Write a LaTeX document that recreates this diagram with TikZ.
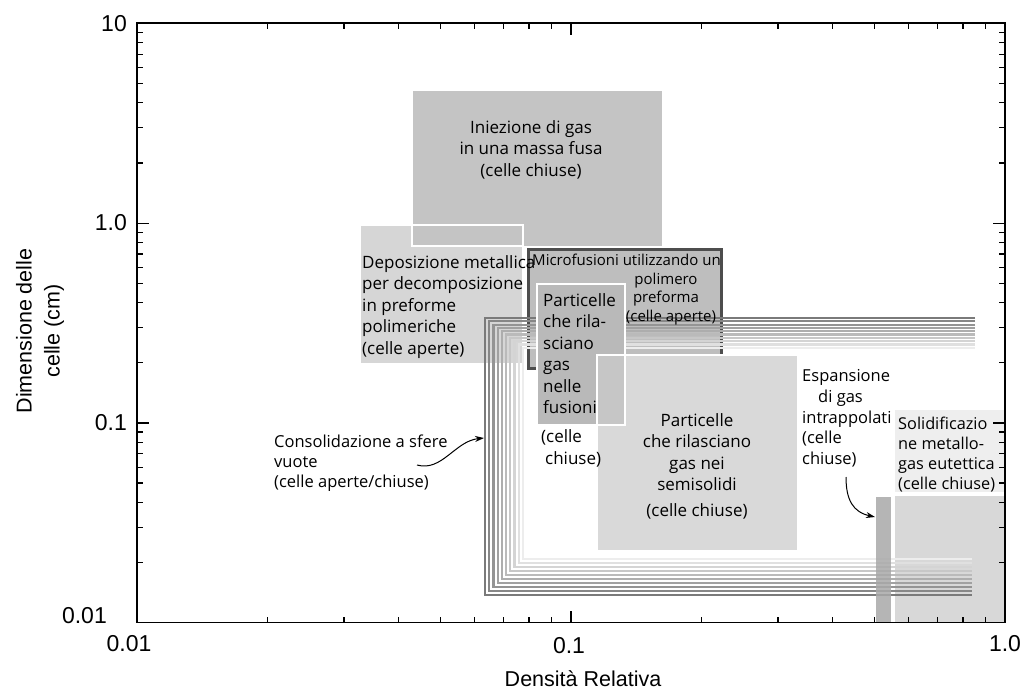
\documentclass[tikz,border=0pt]{standalone}
\usepackage{fontspec}
\setmainfont{Liberation Sans}
\newfontfamily\lblfont{Open Sans}
\usetikzlibrary{calc, positioning, arrows.meta}

\definecolor{iniez}{HTML}{C4C4C4}
\definecolor{depos}{HTML}{D6D6D6}
\definecolor{micro}{HTML}{BEBEBE}
\definecolor{microb}{HTML}{4D4D4D}
\definecolor{fusio}{HTML}{B9B9B9}
\definecolor{overl}{HTML}{C6C6C6}
\definecolor{semis}{HTML}{D9D9D9}
\definecolor{solidc}{HTML}{D8D8D8}
\definecolor{solidlc}{HTML}{EEEEEE}
\definecolor{espan}{HTML}{A8A8A8}

\begin{document}
\begin{tikzpicture}[x=1pt, y=-1pt,
  whiteline/.style={draw=white, line width=2pt},
  lbl/.style={font=\lblfont\fontsize{17}{21.5}\selectfont, inner sep=0pt, align=left, anchor=base west},
  ax/.style={font=\fontsize{23}{27}\selectfont, inner sep=0pt},
  arr/.style={-{Stealth[length=9pt, width=6pt]}, line width=1pt}]
\useasboundingbox (0,0) rectangle (1025,691);

% regions
\fill[depos] (361,226) rectangle (522,363);
\fill[iniez] (413,91) rectangle (662,246);
\draw[whiteline] (412,225) rectangle (523,246);
\draw[fill=micro, draw=microb, line width=3pt] (528.5,249.5) rectangle (721.5,368);
\fill[solidlc] (895,410) rectangle (1005,492);
\fill[solidc] (895,496) rectangle (1005,622.7);

% consolidazione a sfere vuote
\foreach \i in {0,...,9}{
  \pgfmathtruncatemacro\gr{52-5*\i}
  \draw[black!\gr, line width=2.2pt] (975,318+3.3*\i) -- (485+4.2*\i,318+3.3*\i) -- (485+4.2*\i,595-4*\i) -- (972,595-4*\i);
}

\fill[fusio] (538,285) rectangle (624,424);
\fill[semis] (598,356) rectangle (797,550);
\fill[overl] (598,356) rectangle (624,424);
\draw[whiteline] (597,355) rectangle (798,551);
\draw[whiteline] (537,284) rectangle (625,425);
\draw[whiteline] (597,355) rectangle (625,425);
\fill[espan, fill opacity=0.85] (876,496.5) rectangle (891,622.7);

% axes
\draw[line width=1.5pt] (137,23) rectangle (1005,622.7);
\foreach \d in {0,1,2}{
  \foreach \m in {2,...,9}{
    \pgfmathsetmacro\ty{622.7-199.8*(\d+ln(\m)/ln(10))}
    \draw[line width=1.2pt] (137,\ty) -- ++(6,0);
    \draw[line width=1.2pt] (1005,\ty) -- ++(-6,0);
  }
}
\foreach \d in {1,2}{
  \draw[line width=1.2pt] (137,622.7-199.8*\d) -- ++(12,0);
  \draw[line width=1.2pt] (1005,622.7-199.8*\d) -- ++(-12,0);
}
\foreach \d in {0,1}{
  \foreach \m in {2,...,9}{
    \pgfmathsetmacro\tx{137+434*(\d+ln(\m)/ln(10))}
    \draw[line width=1.2pt] (\tx,622.7) -- ++(0,-6);
    \draw[line width=1.2pt] (\tx,23) -- ++(0,6);
  }
}
\draw[line width=1.2pt] (571,622.7) -- ++(0,-12);
\draw[line width=1.2pt] (571,23) -- ++(0,12);

% labels (base = last line)
\node[lbl, anchor=base, align=center] (iniezl) at (531,176) {Iniezione di gas\\in una massa fusa\\(celle chiuse)};
\node[lbl] (deposl) at (362,354) {Deposizione metallica\\per decomposizione\\in preforme\\polimeriche\\(celle aperte)};
\node[lbl, font=\lblfont\fontsize{15}{18.5}\selectfont] (microl) at (532,265.5) {Microfusioni utilizzando un};
\node[lbl, font=\lblfont\fontsize{15}{18.5}\selectfont, anchor=base, align=center] (microl2) at (666,321) {polimero\\preforma\\\hspace*{10pt}(celle aperte)};
\node[lbl] (fusiol) at (543,413.5) {Particelle\\che rila-\\sciano\\gas\\nelle\\fusioni};
\node[lbl] (fusiol2) at (541,464.2) {(celle\\\hspace*{4pt}chiuse)};
\node[lbl, anchor=base, align=center] (semisl) at (697,516) {Particelle\\che rilasciano\\gas nei\\semisolidi\\[4pt](celle chiuse)};
\node[lbl, font=\lblfont\fontsize{16.5}{20.7}\selectfont] (espanl) at (802,464.5) {Espansione\\\hspace*{16pt}di gas\\intrappolati\\(celle\\chiuse)};
\node[lbl, font=\lblfont\fontsize{16.3}{20}\selectfont] (solidl) at (898,489.3) {Solidificazio\\ne metallo-\\gas eutettica\\(celle chiuse)};
\node[lbl, font=\lblfont\fontsize{16.5}{20}\selectfont] (consl) at (274,487.7) {Consolidazione a sfere\\vuote\\(celle aperte/chiuse)};

\coordinate (consA) at (417,465);
\coordinate (consB) at (484,438);
\draw[arr] (consA) .. controls (442,472) and (455,441) .. (consB);
\coordinate (espA) at (846,477);
\coordinate (espB) at (875,517);
\draw[arr] (espA) .. controls (846,500) and (853,512) .. (espB);

% axis labels
\node[ax, anchor=east] (y10) at (127,24) {10};
\node[ax, anchor=east] (y1) at (127,223) {1.0};
\node[ax, anchor=east] (y01) at (127,423) {0.1};
\node[ax, anchor=east] (y001) at (107,616) {0.01};
\node[ax] (x001) at (129,644) {0.01};
\node[ax] (x01) at (569,646) {0.1};
\node[ax] (x1) at (1005,644) {1.0};
\node[font=\fontsize{21.5}{25}\selectfont, inner sep=0pt] (xtitle) at (583,679) {Densità Relativa};
\node[rotate=90, align=center, font=\fontsize{21.5}{28}\selectfont, inner sep=0pt] (ytitle) at (40,331) {Dimensione delle\\celle (cm)};
\end{tikzpicture}
\end{document}
